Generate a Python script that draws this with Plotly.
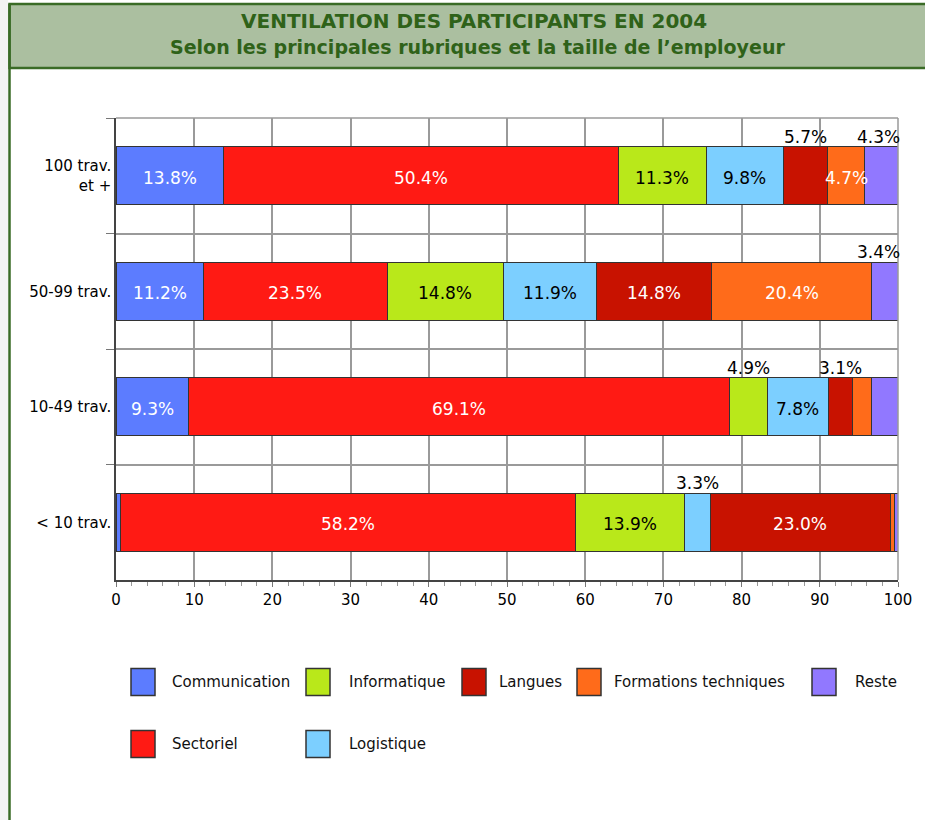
import plotly.graph_objects as go

# ---------------- data ----------------
categories = ["100 trav.<br>et +", "50-99 trav.", "10-49 trav.", "< 10 trav."]
series_names = ["Communication", "Sectoriel", "Informatique", "Logistique",
                "Langues", "Formations techniques", "Reste"]
communication = [13.8, 11.2, 9.3, 0.6]
sectoriel = [50.4, 23.5, 69.1, 58.2]
informatique = [11.3, 14.8, 4.9, 13.9]
logistique = [9.8, 11.9, 7.8, 3.3]
langues = [5.7, 14.8, 3.1, 23.0]
formations = [4.7, 20.4, 2.4, 0.5]
reste = [4.3, 3.4, 3.4, 0.5]
x_ticks = [0, 10, 20, 30, 40, 50, 60, 70, 80, 90, 100]
title_line1 = "VENTILATION DES PARTICIPANTS EN 2004"
title_line2 = "Selon les principales rubriques et la taille de l\u2019employeur"

series_values = [communication, sectoriel, informatique, logistique,
                 langues, formations, reste]

# ---------------- styles ----------------
colors = ["#5C7CFF", "#FF1A14", "#B9E81A", "#7CCFFF", "#C81200", "#FF6B1A", "#9178FF"]
text_colors = ["white", "white", "black", "black", "white", "white", "black"]
# where each value label goes: "in" inside bar, "out" above bar, "" no label
label_modes = [
    ["in", "in", "in", ""],
    ["in", "in", "in", "in"],
    ["in", "in", "out", "in"],
    ["in", "in", "in", "out"],
    ["out", "in", "out", "in"],
    ["in", "in", "", ""],
    ["out", "out", "", ""],
]

W, H = 925, 820
L, R, T, B = 116, 27, 118, 240
PW, PH = W - L - R, H - T - B


def px(x):
    return (x - L) / PW


def py(y):
    return (H - B - y) / PH


fig = go.Figure()
for name, vals, col in zip(series_names, series_values, colors):
    fig.add_trace(go.Bar(
        y=categories, x=vals, name=name, orientation="h",
        marker=dict(color=col, line=dict(color="#333333", width=1)),
        width=0.5, showlegend=False, hoverinfo="x+name",
    ))

annotations = []
# value labels
cum = [0.0] * len(categories)
for si, vals in enumerate(series_values):
    for ci, v in enumerate(vals):
        mode = label_modes[si][ci]
        mid = cum[ci] + v / 2
        if mode == "in":
            annotations.append(dict(x=mid, y=categories[ci], xref="x", yref="y",
                                    text=f"{v:.1f}%", showarrow=False,
                                    xanchor="center", yanchor="middle", yshift=-2,
                                    font=dict(size=17, color=text_colors[si])))
        elif mode == "out":
            annotations.append(dict(x=min(mid, 97.5), y=categories[ci], xref="x", yref="y",
                                    text=f"{v:.1f}%", showarrow=False, yshift=39,
                                    xanchor="center", yanchor="middle",
                                    font=dict(size=17, color="black")))
        cum[ci] += v

# header
shapes = [
    dict(type="rect", xref="paper", yref="paper", x0=px(-20), x1=px(8),
         y0=py(900), y1=py(-10), fillcolor="#F3F3F3", line=dict(width=0), layer="below"),
    dict(type="rect", xref="paper", yref="paper", x0=px(9.5), x1=px(940),
         y0=py(68), y1=py(4), fillcolor="#ABBFA0", line=dict(color="#3A6B26", width=2.5)),
    dict(type="line", xref="paper", yref="paper", x0=px(9.5), x1=px(9.5),
         y0=py(4), y1=py(900), line=dict(color="#3A6B26", width=2.5)),
]
annotations.append(dict(x=px(474), y=py(21), xref="paper", yref="paper", text=f"<b>{title_line1}</b>",
                        showarrow=False, xanchor="center", yanchor="middle",
                        font=dict(size=20, color="#2F6219")))
annotations.append(dict(x=px(477), y=py(47), xref="paper", yref="paper", text=f"<b>{title_line2}</b>",
                        showarrow=False, xanchor="center", yanchor="middle",
                        font=dict(size=19, color="#2F6219")))

# custom legend (column-major, two rows)
legend_slots = {
    "Communication": (131, 170, 682),
    "Sectoriel": (131, 170, 744),
    "Informatique": (306, 347, 682),
    "Logistique": (306, 347, 744),
    "Langues": (462, 497, 682),
    "Formations techniques": (577, 612, 682),
    "Reste": (812, 853, 682),
}
for name, col in zip(series_names, colors):
    sx, tx, cy = legend_slots[name]
    shapes.append(dict(type="rect", xref="paper", yref="paper",
                       x0=px(sx), x1=px(sx + 24), y0=py(cy + 13.5), y1=py(cy - 13.5),
                       fillcolor=col, line=dict(color="#333333", width=1.5)))
    annotations.append(dict(x=px(tx), y=py(cy), xref="paper", yref="paper", text=name,
                            xanchor="left", yanchor="middle", showarrow=False,
                            font=dict(size=15, color="#111111")))

fig.update_layout(
    barmode="stack",
    width=W, height=H,
    margin=dict(l=L, r=R, t=T, b=B, autoexpand=False),
    paper_bgcolor="white", plot_bgcolor="white",
    font=dict(family="DejaVu Sans", size=15, color="black"),
    shapes=shapes, annotations=annotations,
    xaxis=dict(range=[0, 100], tickvals=x_ticks, showgrid=True, gridcolor="#9A9A9A",
               gridwidth=1.5, showline=True, linecolor="#444444", linewidth=1.5,
               ticks="outside", ticklen=5, tickcolor="#777777",
               minor=dict(dtick=2, ticks="outside", ticklen=4, tickcolor="#999999", showgrid=False),
               zeroline=False, tickfont=dict(size=15)),
    yaxis=dict(type="category", autorange="reversed", tickson="boundaries",
               showgrid=True, gridcolor="#9A9A9A", gridwidth=1.5,
               showline=True, linecolor="#444444", linewidth=1.5,
               ticks="outside", ticklen=8, tickcolor="#777777", tickfont=dict(size=15)),
)
fig.add_shape(type="line", xref="paper", yref="paper", x0=0, x1=1, y0=1, y1=1,
              line=dict(color="#9A9A9A", width=1.5))
fig.add_shape(type="line", xref="paper", yref="paper", x0=1, x1=1, y0=0, y1=1,
              line=dict(color="#9A9A9A", width=1.5))

fig.write_html("out.html", config={"displayModeBar": False},
               post_script="document.body.style.margin='0px';document.body.style.overflow='hidden';")
